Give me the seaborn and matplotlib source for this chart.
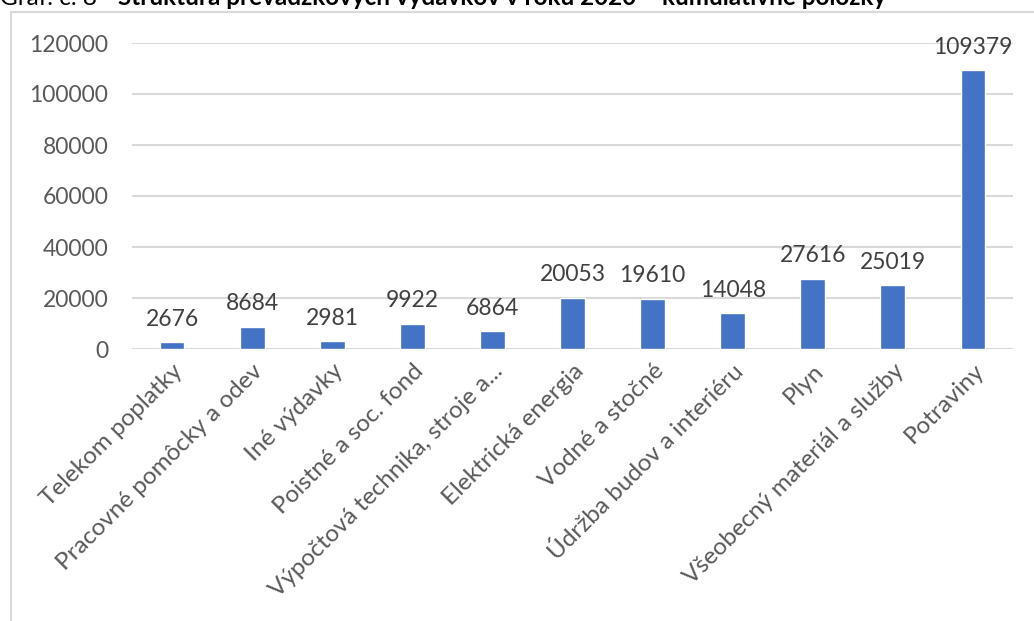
import matplotlib
matplotlib.use("Agg")
import matplotlib.pyplot as plt
from matplotlib.patches import Rectangle
import seaborn as sns

# chart data
categories = [
    "Telekom poplatky",
    "Pracovné pomôcky a odev",
    "Iné výdavky",
    "Poistné a soc. fond",
    "Výpočtová technika, stroje a...",
    "Elektrická energia",
    "Vodné a stočné",
    "Údržba budov a interiéru",
    "Plyn",
    "Všeobecný materiál a služby",
    "Potraviny",
]
values = [2676, 8684, 2981, 9922, 6864, 20053, 19610, 14048, 27616, 25019, 109379]
y_ticks = [0, 20000, 40000, 60000, 80000, 100000, 120000]

BAR = "#4472C4"
GRID = "#d9d9d9"
TXT = "#595959"

sns.set_theme(style="white")
plt.rcParams["font.family"] = ["Lato", "DejaVu Sans"]

W, H = 1034, 621
fig = plt.figure(figsize=(W / 100, H / 100), dpi=100)
ax = fig.add_axes([132 / W, 1 - 349 / H, (1013 - 132) / W, (349 - 43) / H])

sns.barplot(x=categories, y=values, color=BAR, saturation=1, width=0.31, ax=ax, zorder=3)

ax.set_ylim(0, 120000)
ax.set_yticks(y_ticks)
ax.set_yticklabels([str(t) for t in y_ticks], fontsize=16.5, color=TXT)
ax.yaxis.grid(True, color=GRID, linewidth=1.5, zorder=0)
ax.set_axisbelow(True)
for s in ax.spines.values():
    s.set_visible(False)
ax.tick_params(axis="y", length=0, pad=17)
ax.tick_params(axis="x", length=0, pad=8)
ax.set_xlabel("")
ax.set_ylabel("")
ax.set_xticks(range(len(categories)))
ax.set_xticklabels(categories, rotation=45, ha="right", rotation_mode="anchor",
                   fontsize=17.5, color=TXT)

for cont in ax.containers:
    ax.bar_label(cont, labels=[str(v) for v in values], padding=9,
                 fontsize=16.5, color="#404040")

# chart frame (cropped at right/bottom)
fig.patches.append(Rectangle((11 / W, -0.2), 1.2, 1.2 - 12 / H,
                             transform=fig.transFigure, fill=False,
                             edgecolor=GRID, linewidth=1.5))

# title, cut off at the top of the picture like in the source
fig.text(0.0, 1 - 5 / H, "Graf. č. 8", fontsize=17.5, color="black",
         va="baseline", ha="left")
fig.text(118 / W, 1 - 5 / H,
         "Štruktúra prevádzkových výdavkov v roku 2020 – kumulatívne položky",
         fontsize=17.5, fontweight="bold", color="black", va="baseline", ha="left")

fig.savefig("out.png", dpi=100)
